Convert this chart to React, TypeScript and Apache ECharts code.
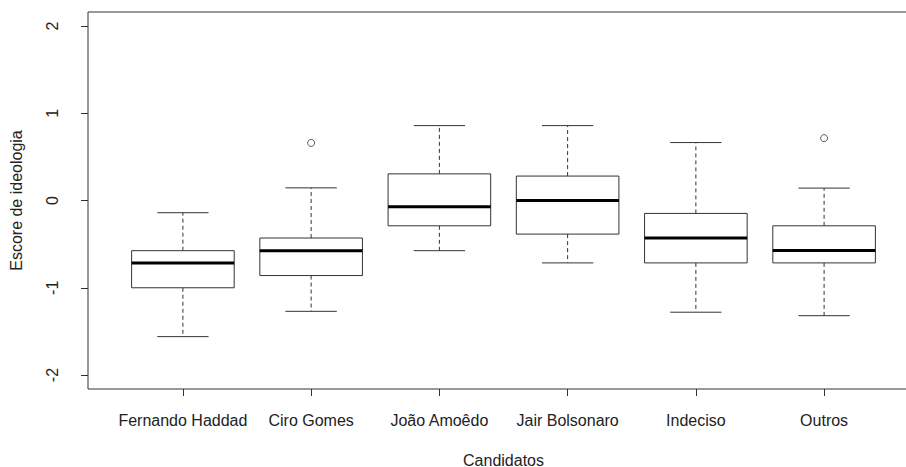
import React, { useEffect, useRef } from "react";
import * as echarts from "echarts";

const categories = ["Fernando Haddad", "Ciro Gomes", "João Amoêdo", "Jair Bolsonaro", "Indeciso", "Outros"];
const lowerWhisker = [-1.56, -1.27, -0.575, -0.715, -1.28, -1.32];
const q1 = [-1.0, -0.86, -0.29, -0.385, -0.715, -0.715];
const medians = [-0.715, -0.575, -0.072, 0.0, -0.43, -0.572];
const q3 = [-0.575, -0.43, 0.305, 0.28, -0.148, -0.29];
const upperWhisker = [-0.14, 0.145, 0.858, 0.858, 0.664, 0.142];
const outliers: [number, number][] = [[2, 0.66], [6, 0.714]];
const yTicks = [-2, -1, 0, 1, 2];

const textColor = "#222";
const lineColor = "#333";
const font = "Liberation Sans, Arial, sans-serif";

export default function App() {
  const ref = useRef<HTMLDivElement>(null);
  useEffect(() => {
    if (!ref.current) return;
    const chart = echarts.init(ref.current, undefined, { renderer: "svg" });
    const boxData = categories.map((_, i) => [i + 1, lowerWhisker[i], q1[i], medians[i], q3[i], upperWhisker[i]]);
    chart.setOption({
      animation: false,
      backgroundColor: "#fff",
      grid: {
        left: 88,
        top: 12,
        width: 831,
        height: 377,
        containLabel: false,
        outerBoundsMode: "none",
        show: true,
        borderColor: lineColor,
        borderWidth: 1,
        backgroundColor: "transparent",
      },
      xAxis: {
        type: "value",
        min: 0.26,
        max: 6.74,
        position: "bottom",
        name: "Candidatos",
        nameLocation: "middle",
        nameGap: 63,
        nameTextStyle: { color: textColor, fontSize: 16, fontFamily: font },
        axisLine: { show: false, onZero: false },
        splitLine: { show: false },
        axisTick: { show: true, length: 7, lineStyle: { color: lineColor }, customValues: [1, 2, 3, 4, 5, 6] },
        axisLabel: {
          color: textColor,
          fontSize: 16,
          fontFamily: font,
          margin: 23,
          customValues: [1, 2, 3, 4, 5, 6],
          formatter: (v: number) => categories[Math.round(v) - 1] ?? "",
        },
      },
      yAxis: {
        type: "value",
        min: -2.16,
        max: 2.16,
        position: "left",
        name: "Escore de ideologia",
        nameLocation: "middle",
        nameGap: 64,
        nameTextStyle: { color: textColor, fontSize: 16, fontFamily: font },
        axisLine: { show: false, onZero: false },
        splitLine: { show: false },
        axisTick: { show: true, length: 7, lineStyle: { color: lineColor }, customValues: yTicks },
        axisLabel: {
          color: textColor,
          fontSize: 16,
          fontFamily: font,
          rotate: 90,
          margin: 28,
          customValues: yTicks,
          formatter: (v: number) => String(Math.round(v)),
        },
      },
      series: [
        {
          type: "custom",
          data: boxData,
          encode: { x: 0, y: [1, 2, 3, 4, 5] },
          clip: false,
          renderItem: (params: any, api: any) => {
            const x = api.value(0);
            const halfW = api.size([0.4, 0])[0];
            const capW = halfW / 2;
            const pLow = api.coord([x, api.value(1)]);
            const pQ1 = api.coord([x, api.value(2)]);
            const pMed = api.coord([x, api.value(3)]);
            const pQ3 = api.coord([x, api.value(4)]);
            const pHigh = api.coord([x, api.value(5)]);
            const cx = pMed[0];
            const dashed = { stroke: lineColor, lineWidth: 1, lineDash: [4, 3], fill: null };
            const solid = { stroke: lineColor, lineWidth: 1, fill: null };
            return {
              type: "group",
              children: [
                { type: "line", shape: { x1: cx, y1: pQ3[1], x2: cx, y2: pHigh[1] }, style: dashed },
                { type: "line", shape: { x1: cx, y1: pQ1[1], x2: cx, y2: pLow[1] }, style: dashed },
                { type: "line", shape: { x1: cx - capW, y1: pHigh[1], x2: cx + capW, y2: pHigh[1] }, style: solid },
                { type: "line", shape: { x1: cx - capW, y1: pLow[1], x2: cx + capW, y2: pLow[1] }, style: solid },
                {
                  type: "rect",
                  shape: { x: cx - halfW, y: pQ3[1], width: 2 * halfW, height: pQ1[1] - pQ3[1] },
                  style: { fill: "#fff", stroke: lineColor, lineWidth: 1 },
                },
                { type: "line", shape: { x1: cx - halfW, y1: pMed[1], x2: cx + halfW, y2: pMed[1] }, style: { stroke: "#000", lineWidth: 3 } },
              ],
            };
          },
        },
        {
          type: "scatter",
          data: outliers,
          symbol: "circle",
          symbolSize: 7,
          itemStyle: { color: "#fff", borderColor: lineColor, borderWidth: 1 },
        },
      ],
    });
    return () => chart.dispose();
  }, []);
  return <div ref={ref} style={{ width: 906, height: 467, position: "absolute", left: 0, top: 0 }} />;
}
